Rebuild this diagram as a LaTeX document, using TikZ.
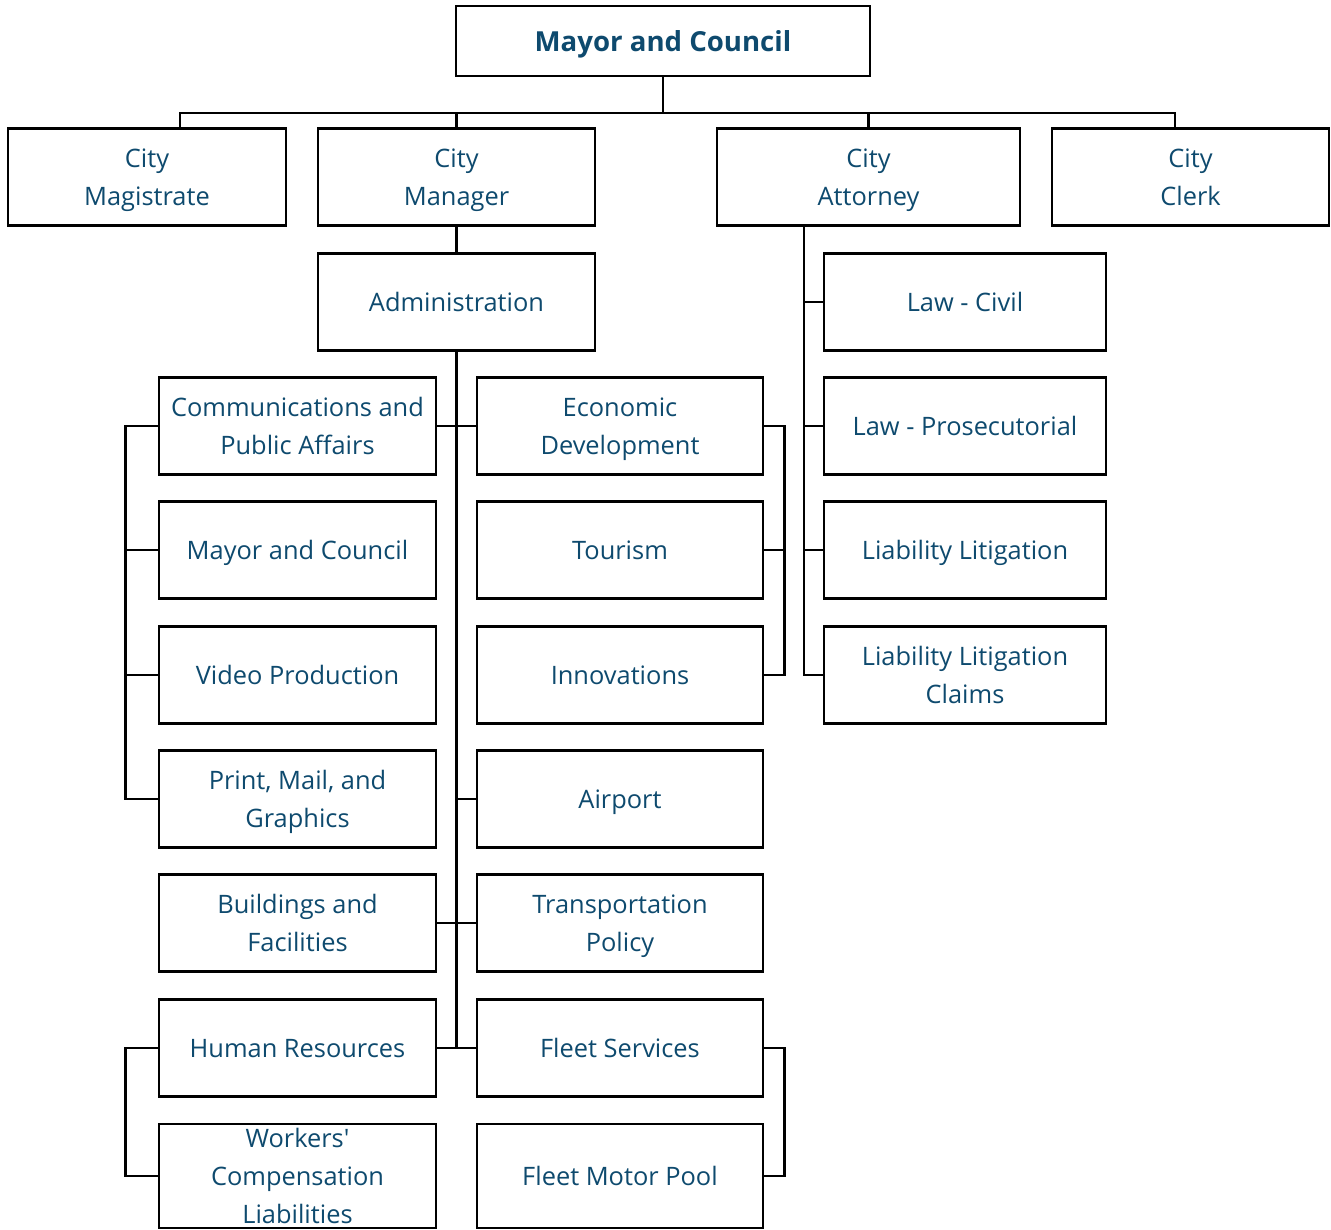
\documentclass[tikz,border=0pt]{standalone}
\usepackage{fontspec}
\setmainfont{Open Sans}
\usepackage{tikz}
\usepackage{xcolor}
\definecolor{orgblue}{HTML}{0E4A6E}

\begin{document}
\begin{tikzpicture}[x=1pt,y=-1pt,line width=2.6pt,line cap=rect,
  orgbox/.style={draw,rectangle,inner sep=0pt,align=center,text=orgblue,
    font=\fontsize{25.4}{38}\selectfont,minimum height=97pt,text depth=0pt},
  headbox/.style={orgbox,font=\bfseries\fontsize{27.6}{38}\selectfont,minimum height=70pt}]
\useasboundingbox (0,0) rectangle (1331,1230);
% top level
\node[headbox,minimum width=414pt] (mc) at (663,41) {Mayor and Council};
\node[orgbox,minimum width=278pt] (mag) at (147,177) {City\\Magistrate};
\node[orgbox,minimum width=277pt] (man) at (456.5,177) {City\\Manager};
\node[orgbox,minimum width=303pt] (att) at (868.5,177) {City\\Attorney};
\node[orgbox,minimum width=277pt] (clk) at (1190.5,177) {City\\Clerk};
\node[orgbox,minimum width=277pt] (adm) at (456.5,302) {Administration};
% left column
\node[orgbox,minimum width=277pt] (comm) at (297.5,426) {Communications and\\Public Affairs};
\node[orgbox,minimum width=277pt] (mc2) at (297.5,550) {Mayor and Council};
\node[orgbox,minimum width=277pt] (vid) at (297.5,675) {Video Production};
\node[orgbox,minimum width=277pt] (prt) at (297.5,799) {Print, Mail, and\\Graphics};
\node[orgbox,minimum width=277pt] (bld) at (297.5,923) {Buildings and\\Facilities};
\node[orgbox,minimum width=277pt] (hr) at (297.5,1048) {Human Resources};
\node[orgbox,minimum width=277pt,minimum height=104pt] (wcl) at (297.5,1176) {Workers\textquotesingle\\Compensation\\Liabilities};
% right column
\node[orgbox,minimum width=286pt] (eco) at (620,426) {Economic\\Development};
\node[orgbox,minimum width=286pt] (tou) at (620,550) {Tourism};
\node[orgbox,minimum width=286pt] (inn) at (620,675) {Innovations};
\node[orgbox,minimum width=286pt] (air) at (620,799) {Airport};
\node[orgbox,minimum width=286pt] (trn) at (620,923) {Transportation\\Policy};
\node[orgbox,minimum width=286pt] (flt) at (620,1048) {Fleet Services};
\node[orgbox,minimum width=286pt,minimum height=104pt] (pool) at (620,1176) {Fleet Motor Pool};
% law offices
\node[orgbox,minimum width=282pt] (civ) at (965,302) {Law - Civil};
\node[orgbox,minimum width=282pt] (pro) at (965,426) {Law - Prosecutorial};
\node[orgbox,minimum width=282pt] (lit) at (965,550) {Liability Litigation};
\node[orgbox,minimum width=282pt] (clm) at (965,675) {Liability Litigation\\Claims};

% bus under the council
\coordinate (busL) at (180,113);
\coordinate (busR) at (1175,113);
\draw (busL) -- (busR);
\draw (mc.south) -- (mc.south |- busL);
\draw (busL) -- (busL |- mag.north);
\draw (man.north |- busL) -- (man.north);
\draw (att.north |- busL) -- (att.north);
\draw (busR) -- (busR |- clk.north);

% administration spine
\draw (man.south) -- (adm.north);
\draw (adm.south) -- (adm.south |- hr.east);
\draw (comm.east) -- (eco.west);
\draw (adm.south |- air.west) -- (air.west);
\draw (bld.east) -- (trn.west);
\draw (hr.east) -- (flt.west);

% brackets
\draw (comm.west) -- ++(-32,0) |- (prt.west);
\draw (mc2.west) -- ++(-32,0);
\draw (vid.west) -- ++(-32,0);
\draw (eco.east) -- ++(20,0) |- (inn.east);
\draw (tou.east) -- ++(20,0);
\draw (hr.west) -- ++(-32,0) |- (wcl.west);
\draw (flt.east) -- ++(20,0) |- (pool.east);

% attorney spine
\coordinate (attbr) at (804,226);
\draw (attbr) |- (clm.west);
\draw (attbr |- civ.west) -- (civ.west);
\draw (attbr |- pro.west) -- (pro.west);
\draw (attbr |- lit.west) -- (lit.west);
\end{tikzpicture}
\end{document}
